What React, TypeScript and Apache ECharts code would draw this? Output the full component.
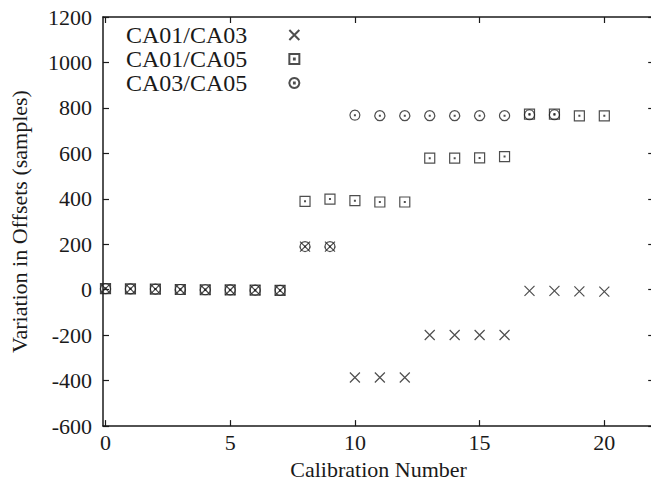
import React, { useEffect, useRef } from "react";
import * as echarts from "echarts";

const calibration = [0, 1, 2, 3, 4, 5, 6, 7, 8, 9, 10, 11, 12, 13, 14, 15, 16, 17, 18, 19, 20];
const ca0103 = [5, 4, 3, 1, 0, -1, -2, -3, 190, 190, -386, -386, -386, -199, -199, -199, -199, -5, -5, -7, -8];
const ca0105 = [5, 4, 3, 1, 0, -1, -2, -3, 389, 399, 392, 386, 386, 579, 579, 580, 586, 773, 773, 765, 765];
const ca0305 = [5, 4, 3, 1, 0, -1, -2, -3, 190, 190, 768, 766, 766, 766, 766, 766, 766, 770, 770];
const xTicks = [0, 5, 10, 15, 20];
const seriesNames = ["CA01/CA03", "CA01/CA05", "CA03/CA05"];

const crossPath = "path://M0 0L10 10M10 0L0 10";
const squarePath = "path://M0 0H10V10H0Z M4.6 4.6H5.4V5.4H4.6Z";
const circlePath = "path://M5 0A5 5 0 1 1 4.99 0Z M4.6 4.6H5.4V5.4H4.6Z";

const FONT = "Liberation Serif";
const INK = "#1a1a1a";

function pairs(vals: number[]) {
  return vals.map((v, i) => [calibration[i], v]);
}

export default function App() {
  const ref = useRef<HTMLDivElement>(null);
  useEffect(() => {
    if (!ref.current) return;
    const chart = echarts.init(ref.current, undefined, { renderer: "svg" });
    const axisLine = { show: true, onZero: false, lineStyle: { color: INK, width: 1.5 } };
    const tick = { show: true, inside: true, length: 6, lineStyle: { color: INK, width: 1.2 } };
    const labelStyle = { fontFamily: FONT, fontSize: 22, color: INK };
    const itemStyle = { color: "transparent", borderColor: "#222", borderWidth: 1.2 };
    chart.setOption({
      animation: false,
      backgroundColor: "#fff",
      grid: { left: 102.7, top: 17, width: 551.5, height: 410, containLabel: false },
      legend: {
        orient: "vertical",
        left: 121,
        top: 18,
        align: "right",
        itemWidth: 84,
        itemHeight: 10,
        itemGap: 0,
        textStyle: { fontFamily: FONT, fontSize: 24, color: INK },
        data: seriesNames,
      },
      xAxis: [
        {
          type: "value",
          min: -0.1,
          max: 22,
          position: "bottom",
          name: "Calibration Number",
          nameLocation: "middle",
          nameGap: 29,
          nameTextStyle: labelStyle,
          axisLine,
          axisTick: { ...tick, customValues: xTicks },
          axisLabel: { ...labelStyle, margin: 5, customValues: xTicks },
          splitLine: { show: false },
        },
        {
          type: "value",
          min: -0.1,
          max: 22,
          position: "top",
          axisLine,
          axisTick: { ...tick, customValues: xTicks },
          axisLabel: { show: false, customValues: xTicks },
          splitLine: { show: false },
        },
      ],
      yAxis: [
        {
          type: "value",
          min: -600,
          max: 1200,
          interval: 200,
          position: "left",
          name: "Variation in Offsets (samples)",
          nameLocation: "middle",
          nameGap: 73,
          nameTextStyle: labelStyle,
          axisLine,
          axisTick: tick,
          axisLabel: { ...labelStyle, margin: 11, formatter: (v: number) => String(v) },
          splitLine: { show: false },
        },
        {
          type: "value",
          min: -600,
          max: 1200,
          interval: 200,
          position: "right",
          axisLine,
          axisTick: tick,
          axisLabel: { show: false },
          splitLine: { show: false },
        },
      ],
      series: [
        {
          name: seriesNames[0],
          type: "scatter",
          symbol: crossPath,
          symbolSize: 10,
          itemStyle,
          data: pairs(ca0103),
        },
        {
          name: seriesNames[1],
          type: "scatter",
          symbol: squarePath,
          symbolSize: 10,
          itemStyle,
          data: pairs(ca0105),
        },
        {
          name: seriesNames[2],
          type: "scatter",
          symbol: circlePath,
          symbolSize: 10,
          itemStyle,
          data: pairs(ca0305),
        },
      ],
    });
    return () => chart.dispose();
  }, []);
  return (
    <div style={{ position: "fixed", left: 0, top: 0, width: 651, height: 485, overflow: "hidden", background: "#fff" }}>
      <div ref={ref} style={{ width: 660, height: 485 }} />
    </div>
  );
}
